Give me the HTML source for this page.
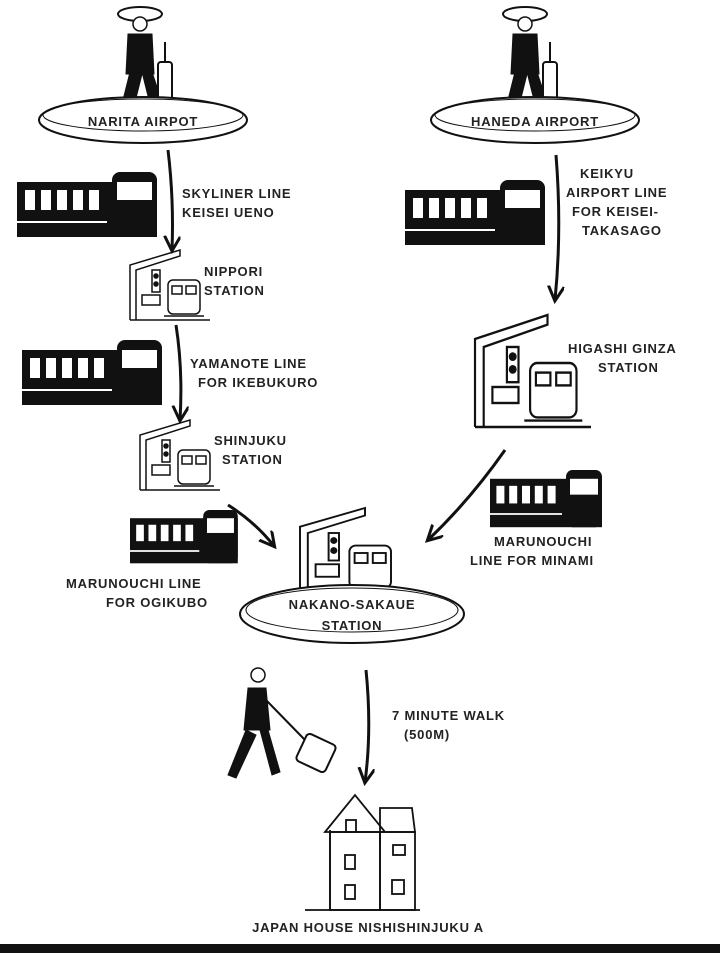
<!DOCTYPE html>
<html><head><meta charset="utf-8"><style>
html,body{margin:0;padding:0;background:#fff;}
svg{display:block}
text{font-family:"Liberation Sans",sans-serif;font-size:13px;font-weight:bold;fill:#222;letter-spacing:0.8px;}
</style></head><body>
<svg width="720" height="953" viewBox="0 0 720 953" xmlns="http://www.w3.org/2000/svg">
<defs>
<marker id="ah" markerWidth="20" markerHeight="20" refX="14" refY="8" orient="auto" markerUnits="userSpaceOnUse">
<path d="M0,0 L15,8 L0,16" fill="none" stroke="#111" stroke-width="3"/>
</marker>
<g id="train">
<rect x="0" y="10" width="140" height="55" fill="#111"/>
<rect x="95" y="0" width="45" height="65" rx="8" fill="#111"/>
<rect x="100" y="10" width="35" height="18" fill="#fff"/>
<rect x="8" y="18" width="10" height="20" fill="#fff"/><rect x="24" y="18" width="10" height="20" fill="#fff"/>
<rect x="40" y="18" width="10" height="20" fill="#fff"/><rect x="56" y="18" width="10" height="20" fill="#fff"/>
<rect x="72" y="18" width="10" height="20" fill="#fff"/>
<line x1="0" y1="50" x2="90" y2="50" stroke="#fff" stroke-width="2"/>
</g>
<g id="station" fill="none" stroke="#111" stroke-width="1.5">
<polyline points="0,70 0,15 50,0 50,6 6,20 6,70"/>
<rect x="12" y="45" width="18" height="10"/>
<rect x="22" y="20" width="8" height="22" fill="#fff"/>
<circle cx="26" cy="26" r="2" fill="#111"/><circle cx="26" cy="34" r="2" fill="#111"/>
<rect x="38" y="30" width="32" height="34" rx="5"/>
<rect x="42" y="36" width="10" height="8"/><rect x="56" y="36" width="10" height="8"/>
<line x1="0" y1="70" x2="80" y2="70"/>
<line x1="34" y1="66" x2="74" y2="66"/>
</g>
<g id="person" fill="#111" stroke="#111">
<ellipse cx="30" cy="12" rx="22" ry="7" fill="none" stroke-width="2"/>
<circle cx="30" cy="22" r="7" fill="#fff" stroke-width="1.5"/>
<path d="M18,32 L42,32 L44,72 L16,72 Z"/>
<path d="M20,70 L12,102 L24,104 L32,72 Z"/><path d="M32,70 L40,102 L52,100 L42,70 Z"/>
<rect x="48" y="60" width="14" height="40" rx="3" fill="#fff" stroke-width="2"/>
<line x1="55" y1="40" x2="55" y2="60" stroke-width="2"/>
</g>
</defs>

<use href="#person" x="110" y="2"/>
<use href="#person" x="495" y="2"/>
<ellipse cx="143" cy="120" rx="104" ry="23" fill="#fff" stroke="#111" stroke-width="2"/>
<ellipse cx="143" cy="115" rx="100" ry="16" fill="none" stroke="#111" stroke-width="1"/>
<text x="143" y="126" text-anchor="middle">NARITA AIRPOT</text>
<ellipse cx="535" cy="120" rx="104" ry="23" fill="#fff" stroke="#111" stroke-width="2"/>
<ellipse cx="535" cy="115" rx="100" ry="16" fill="none" stroke="#111" stroke-width="1"/>
<text x="535" y="126" text-anchor="middle">HANEDA AIRPORT</text>

<use href="#train" x="17" y="172"/>
<use href="#train" x="405" y="180"/>
<use href="#train" x="22" y="340"/>
<g transform="translate(130,510) scale(0.77,0.82)"><use href="#train"/></g>
<g transform="translate(490,470) scale(0.8,0.88)"><use href="#train"/></g>

<use href="#station" x="130" y="250"/>
<use href="#station" x="140" y="420"/>
<g transform="translate(475,315) scale(1.45,1.6)"><use href="#station"/></g>
<g transform="translate(300,508) scale(1.3,1.25)"><use href="#station"/></g>

<g fill="none" stroke="#111" stroke-width="3" marker-end="url(#ah)">
<path d="M168,150 Q174,200 172,250"/>
<path d="M556,155 Q562,230 555,300"/>
<path d="M176,325 Q183,370 180,420"/>
<path d="M228,505 Q255,522 274,546"/>
<path d="M505,450 Q470,500 428,540"/>
<path d="M366,670 Q372,730 365,782"/>
</g>

<text x="182" y="198">SKYLINER LINE</text>
<text x="182" y="217">KEISEI UENO</text>
<text x="204" y="276">NIPPORI</text>
<text x="204" y="295">STATION</text>
<text x="190" y="368">YAMANOTE LINE</text>
<text x="198" y="387">FOR IKEBUKURO</text>
<text x="214" y="445">SHINJUKU</text>
<text x="222" y="464">STATION</text>
<text x="66" y="588">MARUNOUCHI LINE</text>
<text x="106" y="607">FOR OGIKUBO</text>
<text x="580" y="178">KEIKYU</text>
<text x="566" y="197">AIRPORT LINE</text>
<text x="572" y="216">FOR KEISEI-</text>
<text x="582" y="235">TAKASAGO</text>
<text x="568" y="353">HIGASHI GINZA</text>
<text x="598" y="372">STATION</text>
<text x="494" y="546">MARUNOUCHI</text>
<text x="470" y="565">LINE FOR MINAMI</text>

<ellipse cx="352" cy="614" rx="112" ry="29" fill="#fff" stroke="#111" stroke-width="2"/>
<ellipse cx="352" cy="610" rx="106" ry="22" fill="none" stroke="#111" stroke-width="1"/>
<text x="352" y="609" text-anchor="middle">NAKANO-SAKAUE</text>
<text x="352" y="630" text-anchor="middle">STATION</text>

<g fill="#111" stroke="#111">
<circle cx="258" cy="675" r="7" fill="#fff" stroke-width="1.5"/>
<path d="M248,688 L266,688 L270,730 L244,730 Z"/>
<path d="M246,730 L228,775 L236,778 L256,735 Z"/><path d="M260,730 L272,775 L280,772 L268,730 Z"/>
<line x1="266" y1="700" x2="305" y2="740" stroke-width="2"/>
<rect x="300" y="738" width="32" height="30" rx="4" transform="rotate(25 316 753)" fill="#fff" stroke-width="2"/>
</g>
<text x="392" y="720">7 MINUTE WALK</text>
<text x="404" y="739">(500M)</text>

<g fill="none" stroke="#111" stroke-width="1.8">
<polyline points="330,830 330,910"/>
<polygon points="325,832 355,795 385,832"/>
<rect x="330" y="832" width="50" height="78"/>
<polyline points="380,845 380,808 412,808 415,832 380,832"/>
<rect x="380" y="832" width="35" height="78"/>
<rect x="346" y="820" width="10" height="12"/>
<rect x="345" y="855" width="10" height="14"/>
<rect x="345" y="885" width="10" height="14"/>
<rect x="393" y="845" width="12" height="10"/>
<rect x="392" y="880" width="12" height="14"/>
<line x1="305" y1="910" x2="420" y2="910"/>
</g>
<text x="368" y="932" text-anchor="middle">JAPAN HOUSE NISHISHINJUKU A</text>

<rect x="0" y="944" width="720" height="9" fill="#111"/>
</svg>
</body></html>
